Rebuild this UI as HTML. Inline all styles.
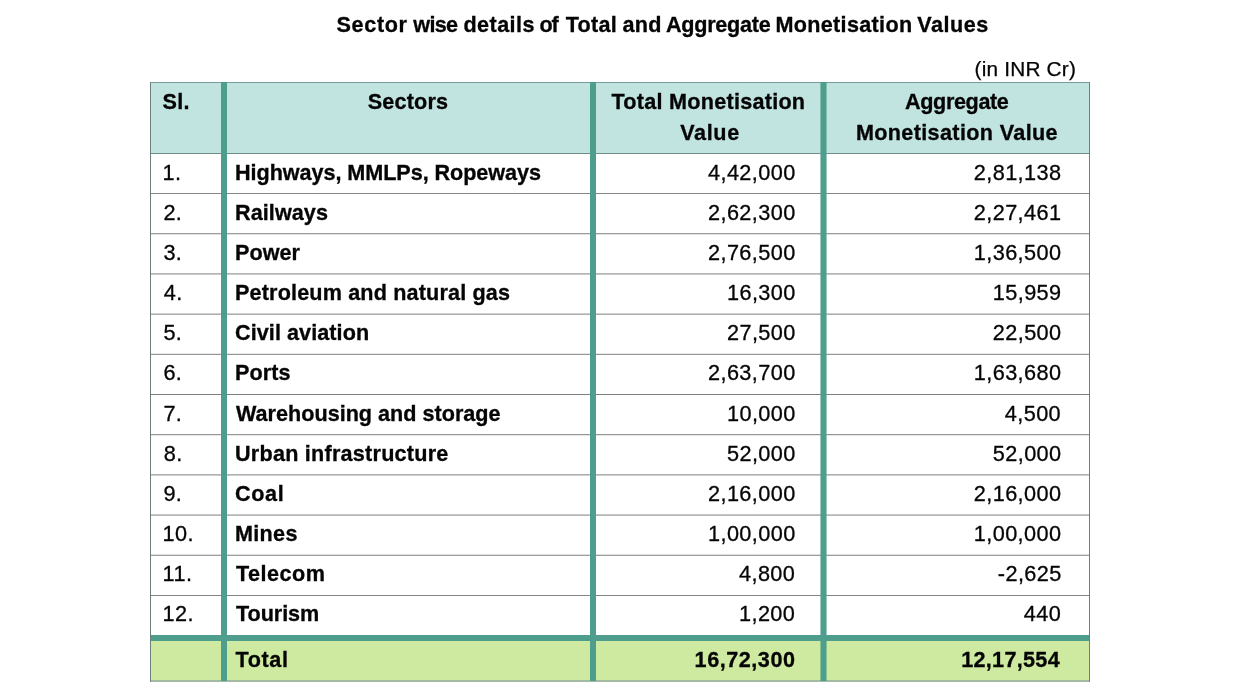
<!DOCTYPE html>
<html lang="en"><head><meta charset="utf-8"><title>Sector wise details of Total and Aggregate Monetisation Values</title>
<style>
html,body{margin:0;padding:0;background:#fff;}
body{width:1240px;height:692px;position:relative;overflow:hidden;font-family:"Liberation Sans",Arial,sans-serif;font-size:21px;color:#050505;}
.t{position:absolute;white-space:nowrap;line-height:40px;height:40px;-webkit-text-stroke:0.25px #050505;}
.b{font-weight:bold;font-size:21.6px;-webkit-text-stroke:0.3px #050505;}
.n{font-size:21.7px;-webkit-text-stroke:0.3px #050505;}
.u{font-size:20.8px;-webkit-text-stroke:0.25px #050505;}
.bg{position:absolute;}
.hl{position:absolute;left:150px;width:940px;height:1px;background:#8a8a8a;}
.vl{position:absolute;top:82px;height:599px;width:6px;background:#4f9d8d;}
</style></head><body>
<div class="bg" style="left:150px;top:82px;width:940px;height:72px;background:#c1e4e0;"></div>
<div class="bg" style="left:150px;top:641px;width:940px;height:40px;background:#ceeaa1;"></div>

<div class="hl" style="top:82px;background:#7a9a95;"></div>
<div class="hl" style="top:153px;background:#6f8f8a;"></div>
<div class="hl" style="top:193px;background:rgba(126,126,126,0.95);"></div>
<div class="hl" style="top:233px;background:rgba(126,126,126,0.76);"></div>
<div class="hl" style="top:234px;background:rgba(126,126,126,0.24);"></div>
<div class="hl" style="top:273px;background:rgba(126,126,126,0.57);"></div>
<div class="hl" style="top:274px;background:rgba(126,126,126,0.43);"></div>
<div class="hl" style="top:313px;background:rgba(126,126,126,0.38);"></div>
<div class="hl" style="top:314px;background:rgba(126,126,126,0.62);"></div>
<div class="hl" style="top:353px;background:rgba(126,126,126,0.19);"></div>
<div class="hl" style="top:354px;background:rgba(126,126,126,0.81);"></div>
<div class="hl" style="top:394px;background:rgba(126,126,126,1.00);"></div>
<div class="hl" style="top:434px;background:rgba(126,126,126,0.81);"></div>
<div class="hl" style="top:435px;background:rgba(126,126,126,0.19);"></div>
<div class="hl" style="top:474px;background:rgba(126,126,126,0.62);"></div>
<div class="hl" style="top:475px;background:rgba(126,126,126,0.38);"></div>
<div class="hl" style="top:514px;background:rgba(126,126,126,0.43);"></div>
<div class="hl" style="top:515px;background:rgba(126,126,126,0.57);"></div>
<div class="hl" style="top:554px;background:rgba(126,126,126,0.24);"></div>
<div class="hl" style="top:555px;background:rgba(126,126,126,0.76);"></div>
<div class="hl" style="top:595px;background:rgba(126,126,126,0.95);"></div>
<div class="hl" style="top:635px;height:6px;background:#4f9d8d;"></div>
<div class="hl" style="top:680px;height:2px;background:#a5baa2;"></div>
<div class="bg" style="left:150px;top:82px;width:1px;height:600px;background:#6e807c;"></div>
<div class="bg" style="left:1089px;top:82px;width:1px;height:600px;background:#6e807c;"></div>
<div class="vl" style="left:221px;"></div>
<div class="vl" style="left:590px;"></div>
<div class="vl" style="left:820px;width:7px;opacity:0.55;"></div>
<div class="vl" style="left:821px;width:5px;"></div>
<h1 style="margin:0;font-size:inherit;font-weight:inherit;"><span class="t b" style="left:336.60px;top:5px;letter-spacing:0.62px;">Sector</span> <span class="t b" style="left:413.30px;top:5px;letter-spacing:-0.66px;">wise</span> <span class="t b" style="left:463.50px;top:5px;letter-spacing:0.42px;">details</span> <span class="t b" style="left:539.40px;top:5px;letter-spacing:-0.98px;">of</span> <span class="t b" style="left:565.70px;top:5px;letter-spacing:0.30px;">Total</span> <span class="t b" style="left:622.50px;top:5px;letter-spacing:0.30px;">and</span> <span class="t b" style="left:666.00px;top:5px;letter-spacing:-0.26px;">Aggregate</span> <span class="t b" style="left:775.50px;top:5px;letter-spacing:0.31px;">Monetisation</span> <span class="t b" style="left:917.20px;top:5px;letter-spacing:0.54px;">Values</span></h1>
<div class="t u" style="left:974.60px;top:49px;letter-spacing:0.19px;">(in INR Cr)</div>
<div class="t b" style="left:162.50px;top:82px;letter-spacing:0.30px;">Sl.</div>
<div class="t b" style="left:367.80px;top:82px;letter-spacing:0.17px;">Sectors</div>
<div class="t b" style="left:611.50px;top:82px;letter-spacing:0.26px;">Total Monetisation</div>
<div class="t b" style="left:680.20px;top:113px;letter-spacing:0.64px;">Value</div>
<div class="t b" style="left:905.10px;top:82px;letter-spacing:-0.38px;">Aggregate</div>
<div class="t b" style="left:855.90px;top:113px;letter-spacing:0.36px;">Monetisation Value</div>
<div class="t n" style="left:162.60px;top:153px;letter-spacing:0.40px;">1.</div>
<div class="t b" style="left:235.00px;top:153px;letter-spacing:-0.05px;">Highways, MMLPs, Ropeways</div>
<div class="t n" style="left:708.00px;top:153px;letter-spacing:0.40px;">4,42,000</div>
<div class="t n" style="left:973.80px;top:153px;letter-spacing:0.40px;">2,81,138</div>
<div class="t n" style="left:163.40px;top:193px;letter-spacing:0.40px;">2.</div>
<div class="t b" style="left:235.00px;top:193px;letter-spacing:0.07px;">Railways</div>
<div class="t n" style="left:708.00px;top:193px;letter-spacing:0.40px;">2,62,300</div>
<div class="t n" style="left:973.80px;top:193px;letter-spacing:0.40px;">2,27,461</div>
<div class="t n" style="left:163.40px;top:233px;letter-spacing:0.40px;">3.</div>
<div class="t b" style="left:235.00px;top:233px;letter-spacing:0.02px;">Power</div>
<div class="t n" style="left:708.00px;top:233px;letter-spacing:0.40px;">2,76,500</div>
<div class="t n" style="left:973.80px;top:233px;letter-spacing:0.40px;">1,36,500</div>
<div class="t n" style="left:163.80px;top:273px;letter-spacing:0.40px;">4.</div>
<div class="t b" style="left:235.00px;top:273px;letter-spacing:0.16px;">Petroleum and natural gas</div>
<div class="t n" style="left:727.00px;top:273px;letter-spacing:0.40px;">16,300</div>
<div class="t n" style="left:992.80px;top:273px;letter-spacing:0.40px;">15,959</div>
<div class="t n" style="left:163.40px;top:313px;letter-spacing:0.40px;">5.</div>
<div class="t b" style="left:235.00px;top:313px;letter-spacing:0.07px;">Civil aviation</div>
<div class="t n" style="left:727.00px;top:313px;letter-spacing:0.40px;">27,500</div>
<div class="t n" style="left:992.80px;top:313px;letter-spacing:0.40px;">22,500</div>
<div class="t n" style="left:163.40px;top:353px;letter-spacing:0.40px;">6.</div>
<div class="t b" style="left:235.00px;top:353px;letter-spacing:0.10px;">Ports</div>
<div class="t n" style="left:708.00px;top:353px;letter-spacing:0.40px;">2,63,700</div>
<div class="t n" style="left:973.80px;top:353px;letter-spacing:0.40px;">1,63,680</div>
<div class="t n" style="left:163.40px;top:394px;letter-spacing:0.40px;">7.</div>
<div class="t b" style="left:236.00px;top:394px;letter-spacing:0.01px;">Warehousing and storage</div>
<div class="t n" style="left:727.00px;top:394px;letter-spacing:0.40px;">10,000</div>
<div class="t n" style="left:1004.80px;top:394px;letter-spacing:0.40px;">4,500</div>
<div class="t n" style="left:163.80px;top:434px;letter-spacing:0.40px;">8.</div>
<div class="t b" style="left:235.00px;top:434px;letter-spacing:0.24px;">Urban infrastructure</div>
<div class="t n" style="left:727.00px;top:434px;letter-spacing:0.40px;">52,000</div>
<div class="t n" style="left:992.80px;top:434px;letter-spacing:0.40px;">52,000</div>
<div class="t n" style="left:163.40px;top:474px;letter-spacing:0.40px;">9.</div>
<div class="t b" style="left:235.00px;top:474px;letter-spacing:0.67px;">Coal</div>
<div class="t n" style="left:708.00px;top:474px;letter-spacing:0.40px;">2,16,000</div>
<div class="t n" style="left:973.80px;top:474px;letter-spacing:0.40px;">2,16,000</div>
<div class="t n" style="left:162.60px;top:514px;letter-spacing:0.40px;">10.</div>
<div class="t b" style="left:235.00px;top:514px;letter-spacing:0.30px;">Mines</div>
<div class="t n" style="left:708.00px;top:514px;letter-spacing:0.40px;">1,00,000</div>
<div class="t n" style="left:973.80px;top:514px;letter-spacing:0.40px;">1,00,000</div>
<div class="t n" style="left:162.60px;top:554px;letter-spacing:0.40px;">11.</div>
<div class="t b" style="left:236.00px;top:554px;letter-spacing:0.47px;">Telecom</div>
<div class="t n" style="left:739.00px;top:554px;letter-spacing:0.40px;">4,800</div>
<div class="t n" style="left:997.80px;top:554px;letter-spacing:0.40px;">-2,625</div>
<div class="t n" style="left:162.60px;top:594px;letter-spacing:0.40px;">12.</div>
<div class="t b" style="left:236.00px;top:594px;letter-spacing:-0.05px;">Tourism</div>
<div class="t n" style="left:739.00px;top:594px;letter-spacing:0.40px;">1,200</div>
<div class="t n" style="left:1023.80px;top:594px;letter-spacing:0.40px;">440</div>
<div class="t b" style="left:235.60px;top:640px;letter-spacing:0.58px;">Total</div>
<div class="t b" style="left:694.60px;top:640px;letter-spacing:0.54px;">16,72,300</div>
<div class="t b" style="left:961.20px;top:640px;letter-spacing:0.30px;">12,17,554</div>
</body></html>
